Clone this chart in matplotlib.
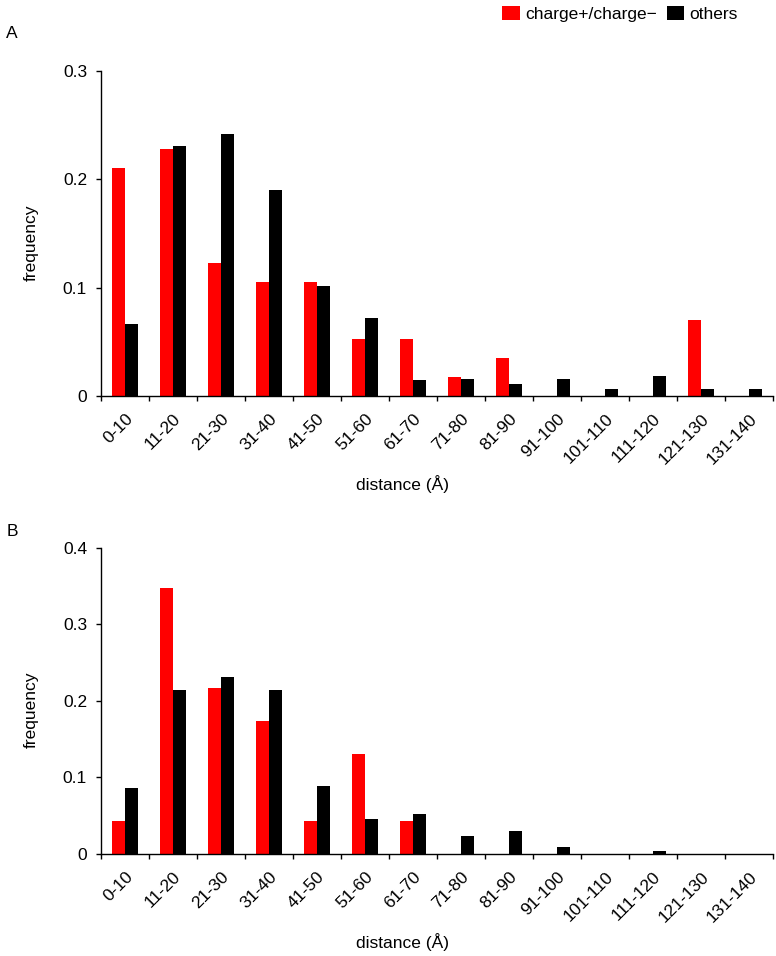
import numpy as np
import matplotlib
matplotlib.use('Agg')
import matplotlib.pyplot as plt
from matplotlib.patches import Patch

plt.rcParams['font.family'] = ['Liberation Sans', 'DejaVu Sans']
plt.rcParams['font.size'] = 12.5

# distance bins
bins = ['0-10', '11-20', '21-30', '31-40', '41-50', '51-60', '61-70',
        '71-80', '81-90', '91-100', '101-110', '111-120', '121-130', '131-140']

# panel A frequencies
charge_a = [0.2105, 0.2281, 0.1228, 0.1053, 0.1053, 0.0526, 0.0526,
            0.0175, 0.0351, 0.0, 0.0, 0.0, 0.0702, 0.0]
others_a = [0.0662, 0.2309, 0.2420, 0.1905, 0.1015, 0.0723, 0.0151,
            0.0160, 0.0110, 0.0160, 0.0062, 0.0188, 0.0062, 0.0062]

# panel B frequencies
charge_b = [0.0435, 0.3478, 0.2174, 0.1739, 0.0435, 0.1304, 0.0435,
            0.0, 0.0, 0.0, 0.0, 0.0, 0.0, 0.0]
others_b = [0.0863, 0.2144, 0.2314, 0.2144, 0.0893, 0.0462, 0.0527,
            0.0235, 0.0296, 0.0096, 0.0, 0.0035, 0.0, 0.0]

red = '#ff0000'
blk = '#000000'
w = 0.28

fig = plt.figure(figsize=(7.76, 9.56), dpi=100)
ax_a = fig.add_axes([0.1302, 0.5858, 0.866, 0.3400])
ax_b = fig.add_axes([0.1302, 0.1067, 0.866, 0.3201])


def draw_panel(ax, charge, others, ymax, yticks, label_y):
    x = np.arange(len(bins))
    ax.bar(x - w / 2, charge, width=w, color=red, linewidth=0)
    ax.bar(x + w / 2, others, width=w, color=blk, linewidth=0)
    ax.set_xlim(-0.5, len(bins) - 0.5)
    ax.set_ylim(0, ymax)
    ax.spines['top'].set_visible(False)
    ax.spines['right'].set_visible(False)
    ax.spines['left'].set_linewidth(1.0)
    ax.spines['bottom'].set_linewidth(1.0)
    ax.set_yticks(yticks)
    ax.set_yticklabels(['0' if t == 0 else '%.1f' % t for t in yticks])
    ax.tick_params(axis='y', direction='out', length=3.6, width=1.0, pad=6.5)
    # labels at centers, tick marks at bin boundaries
    ax.set_xticks(x)
    ax.set_xticklabels(bins, rotation=45, ha='right', va='top',
                       rotation_mode='anchor')
    ax.tick_params(axis='x', which='major', length=0, pad=11)
    ax.set_xticks(np.arange(-0.5, len(bins)), minor=True)
    ax.tick_params(axis='x', which='minor', direction='out', length=3.6,
                   width=1.0)
    ax.set_ylabel('frequency')
    ax.yaxis.set_label_coords(-0.092, 0.47)
    ax.set_xlabel('distance (Å)')
    ax.xaxis.set_label_coords(0.449, label_y)


draw_panel(ax_a, charge_a, others_a, 0.3, [0, 0.1, 0.2, 0.3], -0.243)
draw_panel(ax_b, charge_b, others_b, 0.4, [0, 0.1, 0.2, 0.3, 0.4], -0.258)

fig.text(12 / 776, 1 - 33 / 956, 'A', ha='center', va='center')
fig.text(12 / 776, 1 - 532 / 956, 'B', ha='center', va='center')

handles = [Patch(facecolor=red, edgecolor='none'),
           Patch(facecolor=blk, edgecolor='none')]
fig.legend(handles, ['charge+/charge\u2212', 'others'], loc='center right',
           bbox_to_anchor=(738 / 776, 1 - 14 / 956), ncol=2, frameon=False,
           handlelength=1.0, handleheight=0.9, handletextpad=0.3,
           columnspacing=0.6, borderpad=0, borderaxespad=0)

fig.savefig('out.png', dpi=100)
